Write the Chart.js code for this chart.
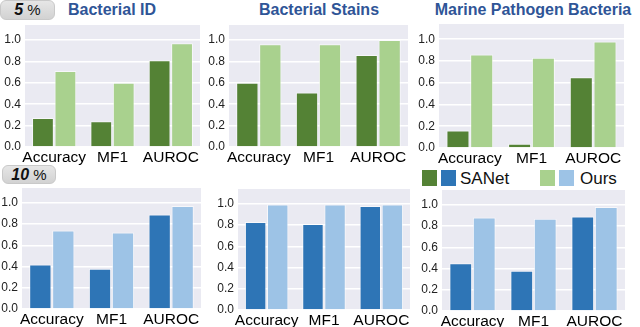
<!DOCTYPE html>
<html>
<head>
<meta charset="utf-8">
<script src="https://cdn.jsdelivr.net/npm/chart.js@4.4.1/dist/chart.umd.min.js"></script>
<style>
  body { margin: 0; background: #fff; font-family: "Liberation Sans", Arial, sans-serif; }
  #page { position: relative; width: 640px; height: 327px; overflow: hidden; }
  canvas { position: absolute; }
  .title { position: absolute; top: 2px; transform: translateX(-50%); white-space: nowrap;
           font-weight: bold; font-size: 16px; line-height: 16px; color: #2F5597; }
  .badge { position: absolute; border-radius: 6px; background: linear-gradient(#e6e6e6, #d2d2d2);
           border: 1px solid #c9c9c9; box-sizing: border-box; text-align: center;
           font-size: 15px; color: #111; }
  .badge b { font-style: italic; font-size: 16px; }
  .sw { position: absolute; width: 15px; height: 16px; }
  .lg { position: absolute; font-size: 17px; line-height: 17px; color: #111; }
</style>
</head>
<body>
<div id="page">
  <div class="badge" style="left:0;top:0;width:55px;height:20px;line-height:18px;"><b>5</b> %</div>
  <div class="badge" style="left:2px;top:165px;width:54px;height:19px;line-height:17px;"><b>10</b> %</div>

  <div class="title" style="left:112px;">Bacterial ID</div>
  <div class="title" style="left:319px;">Bacterial Stains</div>
  <div class="title" style="left:533px;">Marine Pathogen Bacteria</div>

  <div class="sw" style="left:422px;top:170px;background:#548235;"></div>
  <div class="sw" style="left:441px;top:170px;background:#2E75B6;"></div>
  <div class="lg" style="left:460px;top:170px;">SANet</div>
  <div class="sw" style="left:540px;top:170px;background:#A9D18E;"></div>
  <div class="sw" style="left:559px;top:170px;background:#9DC3E6;"></div>
  <div class="lg" style="left:580px;top:170px;">Ours</div>
</div>
<script>
// 数据
const categories = ['Accuracy', 'MF1', 'AUROC'];
const yTicks = [0, 0.2, 0.4, 0.6, 0.8, 1.0];

// 5% 标注
const idSanet5 = [0.27, 0.24, 0.81];
const idOurs5 = [0.71, 0.60, 0.97];
const stainSanet5 = [0.60, 0.51, 0.86];
const stainOurs5 = [0.96, 0.96, 1.00];
const marineSanet5 = [0.16, 0.04, 0.65];
const marineOurs5 = [0.86, 0.83, 0.98];

// 10% 标注
const idSanet10 = [0.42, 0.38, 0.89];
const idOurs10 = [0.74, 0.72, 0.97];
const stainSanet10 = [0.83, 0.81, 0.98];
const stainOurs10 = [0.995, 0.995, 0.995];
const marineSanet10 = [0.45, 0.38, 0.89];
const marineOurs10 = [0.88, 0.87, 0.98];

const green = ['#548235', '#A9D18E'];
const blue = ['#2E75B6', '#9DC3E6'];

// plot area of each panel in page pixels: left, top, right, bottom
const panels = [
    { box: [25, 25, 200, 147], sanet: idSanet5, ours: idOurs5, colors: green },
    { box: [229, 25, 408, 147], sanet: stainSanet5, ours: stainOurs5, colors: green },
    { box: [439, 24, 624, 148], sanet: marineSanet5, ours: marineOurs5, colors: green },
    { box: [22, 188, 201, 309], sanet: idSanet10, ours: idOurs10, colors: blue },
    { box: [238, 189, 410, 310], sanet: stainSanet10, ours: stainOurs10, colors: blue },
    { box: [442, 190, 625, 311], sanet: marineSanet10, ours: marineOurs10, colors: blue }
];

// 背景色插件
const plotBg = {
    id: 'plotBg',
    beforeDraw(chart) {
        const a = chart.chartArea;
        const ctx = chart.ctx;
        ctx.save();
        ctx.fillStyle = '#EAEAF2';
        ctx.fillRect(a.left, a.top, a.right - a.left, a.bottom - a.top);
        ctx.restore();
    }
};

function noPad(scale) {
    scale.paddingTop = 0;
    scale.paddingBottom = 0;
    scale.paddingLeft = 0;
    scale.paddingRight = 0;
}

const page = document.getElementById('page');
const yW = 24, xH = 20, padT = 3, padR = 3;

panels.forEach(function(p) {
    const [L, T, R, B] = p.box;
    const cv = document.createElement('canvas');
    const w = R - L + yW + padR, h = B - T + padT + xH;
    cv.width = w; cv.height = h;
    cv.style.left = (L - yW) + 'px';
    cv.style.top = (T - padT) + 'px';
    cv.style.width = w + 'px'; cv.style.height = h + 'px';
    page.appendChild(cv);

    new Chart(cv.getContext('2d'), {
        type: 'bar',
        data: {
            labels: categories,
            datasets: [{
                label: 'SANet',
                data: p.sanet,
                backgroundColor: p.colors[0],
                borderColor: 'rgba(255,255,255,0.6)',
                borderWidth: 1
            }, {
                label: 'Ours',
                data: p.ours,
                backgroundColor: p.colors[1],
                borderColor: 'rgba(255,255,255,0.6)',
                borderWidth: 1
            }]
        },
        options: {
            responsive: false,
            animation: false,
            devicePixelRatio: 1,
            layout: { padding: { top: padT, right: padR, left: 0, bottom: 0 } },
            datasets: { bar: { categoryPercentage: 0.77, barPercentage: 0.97 } },
            plugins: { legend: { display: false }, tooltip: { enabled: false } },
            scales: {
                x: {
                    grid: { display: false, drawTicks: false },
                    border: { display: false },
                    ticks: {
                        autoSkip: false, maxRotation: 0, minRotation: 0, padding: 1,
                        color: '#000',
                        font: { family: 'Liberation Sans', size: 15.5 }
                    },
                    afterFit(scale) { scale.height = xH; noPad(scale); }
                },
                y: {
                    min: 0,
                    max: 1.14,
                    afterBuildTicks(scale) { scale.ticks = yTicks.map(v => ({ value: v })); },
                    grid: { color: '#ffffff', lineWidth: 1.5, drawTicks: false },
                    border: { display: false },
                    ticks: {
                        padding: 4,
                        color: '#222',
                        font: { family: 'Liberation Sans', size: 12 },
                        callback: v => Number(v).toFixed(1)
                    },
                    afterFit(scale) { scale.width = yW; noPad(scale); }
                }
            }
        },
        plugins: [plotBg]
    });
});
</script>
</body>
</html>
